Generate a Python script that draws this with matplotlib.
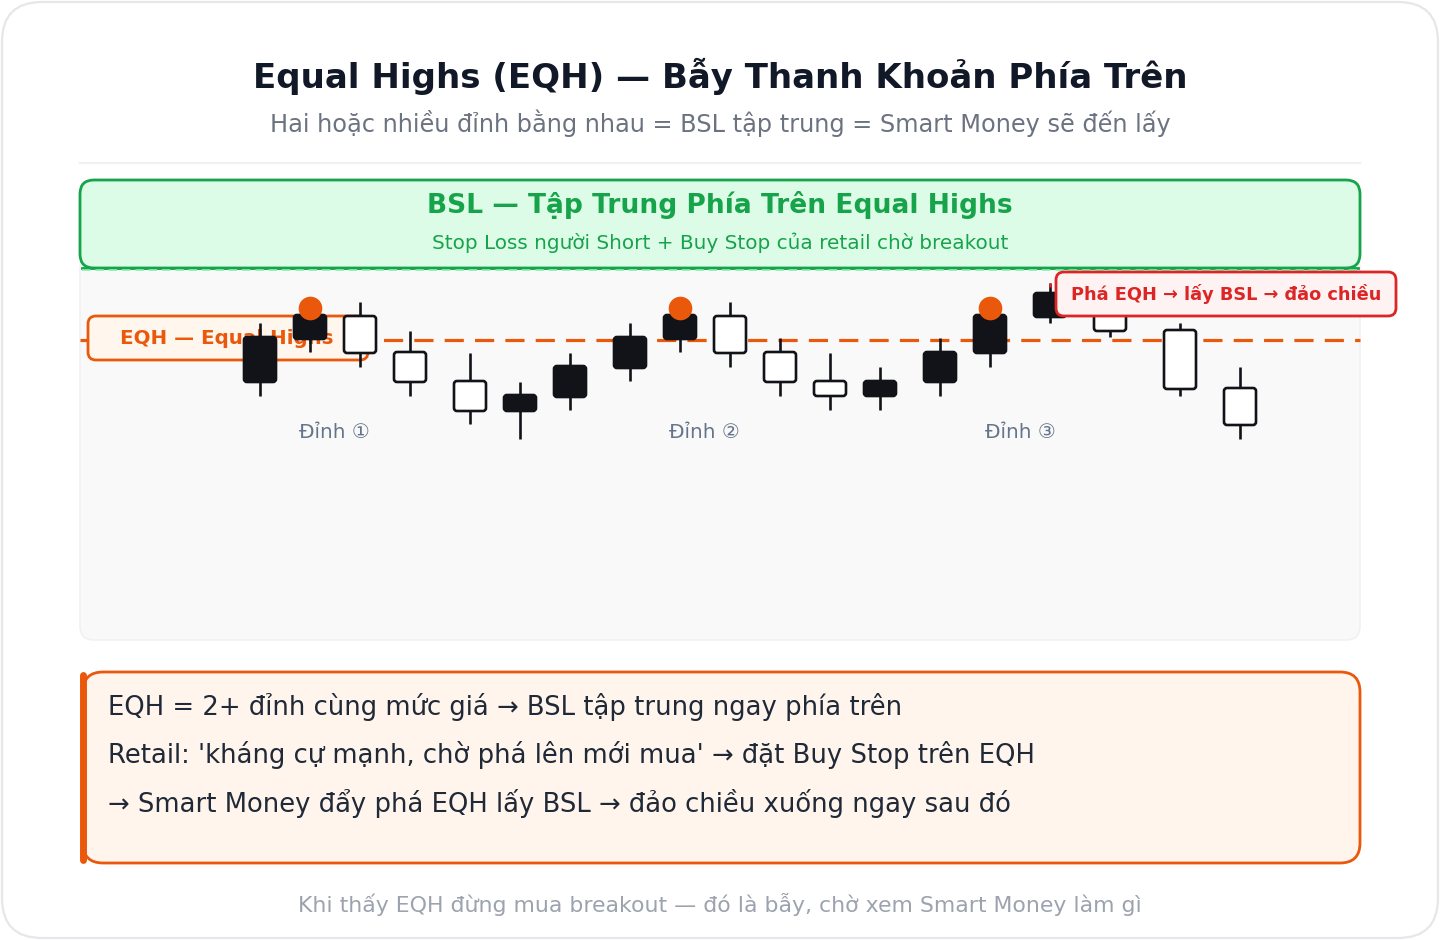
import matplotlib
matplotlib.use("Agg")
import matplotlib.pyplot as plt
from matplotlib.patches import FancyBboxPatch

plt.rcParams['font.family'] = ['DejaVu Sans', 'Noto Sans CJK SC']

# candle data (x = bar position, prices with EQH level = 100)
bar_x = [260, 310, 360, 410, 470, 520, 570, 630, 680, 730, 780, 830, 880, 940, 990, 1050, 1110, 1180, 1240]
opens = [100.3, 102.5, 98.7, 95.8, 92.9, 94.5, 97.4, 100.3, 102.5, 98.7, 95.8, 94.4, 95.9, 98.8, 102.5, 104.7, 100.9, 95.1, 91.5]
highs = [101.7, 103.2, 103.8, 100.9, 98.7, 95.8, 98.7, 101.7, 103.2, 103.8, 100.2, 98.7, 97.3, 100.2, 103.2, 105.7, 104.8, 101.7, 97.3]
lows = [94.4, 98.8, 97.3, 94.4, 91.6, 90.1, 93.0, 95.9, 98.8, 97.3, 94.4, 93.0, 93.0, 94.4, 97.3, 101.7, 100.3, 94.4, 90.1]
closes = [95.8, 100.1, 102.4, 98.8, 95.9, 92.9, 94.3, 97.2, 100.1, 102.4, 98.8, 95.9, 94.4, 95.8, 98.7, 102.3, 104.0, 101.0, 95.2]
filled = [True, True, False, False, False, True, True, True, True, False, False, False, True, True, True, True, False, False, False]

eqh_level = 100.0
peak_idx = [1, 8, 14]
peak_labels = ["Đỉnh ①", "Đỉnh ②", "Đỉnh ③"]
peak_label_x = [334, 704, 1020]
sweep_idx = 15

title = "Equal Highs (EQH) — Bẫy Thanh Khoản Phía Trên"
subtitle = "Hai hoặc nhiều đỉnh bằng nhau = BSL tập trung = Smart Money sẽ đến lấy"
bsl_title = "BSL — Tập Trung Phía Trên Equal Highs"
bsl_sub = "Stop Loss người Short + Buy Stop của retail chờ breakout"
notes = [
    "EQH = 2+ đỉnh cùng mức giá → BSL tập trung ngay phía trên",
    "Retail: 'kháng cự mạnh, chờ phá lên mới mua' → đặt Buy Stop trên EQH",
    "→ Smart Money đẩy phá EQH lấy BSL → đảo chiều xuống ngay sau đó",
]
footer = "Khi thấy EQH đừng mua breakout — đó là bẫy, chờ xem Smart Money làm gì"

ORANGE = "#ea580c"
GREEN = "#16a34a"
RED = "#dc2626"
DARK = "#111318"

fig = plt.figure(figsize=(14.4, 9.4), dpi=100)
fig.patch.set_facecolor("white")

# background axes in pixel coords
bg = fig.add_axes([0, 0, 1, 1])
bg.set_xlim(0, 1440)
bg.set_ylim(940, 0)
bg.axis("off")

def rbox(ax, x0, y0, x1, y1, r, fc, ec, lw, z, **kw):
    p = FancyBboxPatch((x0, y0), x1 - x0, y1 - y0,
                       boxstyle=f"round,pad=0,rounding_size={r}",
                       fc=fc, ec=ec, lw=lw, zorder=z, **kw)
    ax.add_patch(p)
    return p

rbox(bg, 2, 2, 1438, 938, 40, "white", "#e5e7eb", 1.6, 0)
bg.text(720, 76, title, ha="center", va="center", fontsize=24.5, fontweight="bold", color="#111827")
bg.text(720, 123, subtitle, ha="center", va="center", fontsize=17.3, color="#6b7280")
bg.plot([80, 1360], [163, 163], color="#f0f0f2", lw=1.5, zorder=1)

# chart panel + BSL zone
rbox(bg, 80, 255, 1360, 640, 14, "#f9f9f9", "#f1f1f3", 1.2, 1)
rbox(bg, 80, 180, 1360, 268, 14, "#dcfce7", GREEN, 2.0, 2)
bg.plot([82, 1358], [268, 268], color=GREEN, lw=2.0, zorder=3)
bg.plot([82, 1358], [270, 270], color="#86efac", lw=1.2, ls=(0, (5, 3)), zorder=3)
bg.text(720, 205, bsl_title, ha="center", va="center", fontsize=19.1, fontweight="bold", color=GREEN)
bg.text(720, 243, bsl_sub, ha="center", va="center", fontsize=14.4, color=GREEN)

# notes box
rbox(bg, 83, 672, 1360, 863, 20, "#fff5ed", ORANGE, 2.0, 1)
bg.plot([83, 83], [675, 860], color=ORANGE, lw=5, solid_capstyle="round", zorder=2)
for i, line in enumerate(notes):
    bg.text(108, 707 + i * 48, line, ha="left", va="center", fontsize=18.6, color="#1f2937")
bg.text(720, 905, footer, ha="center", va="center", fontsize=15.8, color="#9ca3af")

# price axes: 1 px in x, 0.1 price per px in y (EQH=100 at y=340)
ax = fig.add_axes([0, 0, 1, 1], zorder=2)
ax.set_xlim(0, 1440)
ax.set_ylim(100 - (940 - 340) * 0.1, 100 + 340 * 0.1)
ax.patch.set_alpha(0)
ax.axis("off")

ax.plot([80, 1360], [eqh_level, eqh_level], color=ORANGE, lw=2.3, dashes=(6, 3.5), zorder=1)

# EQH label box (pixel coords)
rbox(ax, 88, 316, 368, 360, 8, "#fff7ed", ORANGE, 2.0, 2, transform=bg.transData)
ax.text(120, 338, "EQH — Equal Highs", transform=bg.transData, ha="left", va="center",
        fontsize=14.3, fontweight="bold", color=ORANGE, zorder=2)

bw = 32
for i, x in enumerate(bar_x):
    o, h, l, c = opens[i], highs[i], lows[i], closes[i]
    top, bot = max(o, c), min(o, c)
    ax.plot([x, x], [top, h], color=DARK, lw=1.9, zorder=3, solid_capstyle="butt")
    if i == sweep_idx:
        ax.plot([x, x], [h - 0.4, h], color=RED, lw=1.9, zorder=3, solid_capstyle="butt")
    ax.plot([x, x], [l, bot], color=DARK, lw=1.9, zorder=3, solid_capstyle="butt")
    p = FancyBboxPatch((x - bw / 2, bot), bw, top - bot,
                       boxstyle="round,pad=0,rounding_size=3", mutation_aspect=0.1,
                       fc=DARK if filled[i] else "white", ec=DARK, lw=1.9, zorder=4)
    ax.add_patch(p)

ax.scatter([bar_x[i] for i in peak_idx], [highs[i] for i in peak_idx], s=290,
           color=ORANGE, zorder=5, linewidths=0)
for lx, lab in zip(peak_label_x, peak_labels):
    ax.text(lx, 432, lab, transform=bg.transData, ha="center", va="center",
            fontsize=14.4, color="#64748b", zorder=5)

# sweep label
rbox(ax, 1056, 272, 1396, 316, 8, "#fef2f2", RED, 2.0, 6, transform=bg.transData)
ax.text(1226, 294, "Phá EQH → lấy BSL → đảo chiều", transform=bg.transData, ha="center",
        va="center", fontsize=12.75, fontweight="bold", color=RED, zorder=7)

fig.savefig("out.png", dpi=100, facecolor="white")
